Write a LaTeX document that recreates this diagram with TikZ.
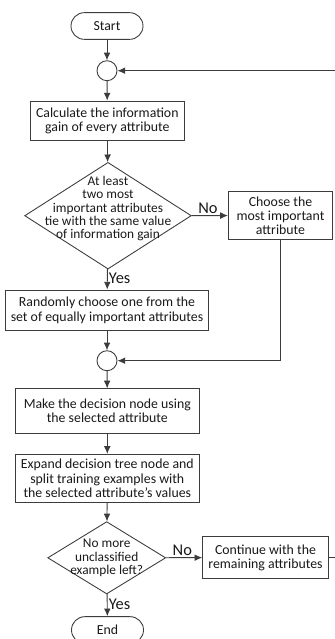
\documentclass[tikz,border=0pt]{standalone}
\usepackage{fontspec}
\setmainfont{Carlito}
\usepackage{tikz}
\usetikzlibrary{shapes.geometric, arrows.meta, positioning}
\definecolor{flowline}{RGB}{60,60,60}
\definecolor{flowtext}{RGB}{25,25,25}

\begin{document}
\begin{tikzpicture}[x=0.03cm,y=-0.03cm,
    line width=0.75pt,
    every node/.style={draw=flowline,font=\fontsize{11.8}{12}\selectfont\color{flowtext},align=center},
    terminal/.style={rounded corners=0.4cm,minimum width=2.16cm,minimum height=0.8cm},
    procbox/.style={rectangle,inner sep=2pt},
    merge/.style={circle,minimum size=0.6cm,inner sep=0pt},
    decision/.style={diamond,inner sep=0pt},
    tight/.style={draw=none,font=\fontsize{11.4}{11.4}\selectfont\color{flowtext}},
    flow/.style={draw=flowline,-{Latex[length=2.3mm,width=2mm]}},
    answer/.style={draw=none,font=\fontsize{14}{15}\selectfont\color{flowtext},inner sep=1pt}]
    \useasboundingbox (0,0) rectangle (335,639);
    \node[terminal] (start) at (107,26) {Start};
    \node[merge] (merge1) at (107,70.7) {};
    \node[procbox,minimum width=4.6cm,minimum height=1.17cm] (gain) at (107.3,120.5)
        {Calculate the information\\gain of every attribute};
    \node[decision,minimum width=5cm,minimum height=3.2cm,
          label={[tight,yshift=6pt]center:At least\\two most\\important attributes\\tie with the same value\\of information gain}] (tie) at (108,215.7) {};
    \node[procbox,minimum width=3.13cm,minimum height=1.43cm] (best) at (280.5,215.5)
        {Choose the\\most important\\attribute};
    \node[procbox,minimum width=6.07cm,minimum height=1.22cm] (random) at (107,310.3)
        {Randomly choose one from the\\set of equally important attributes};
    \node[merge] (merge2) at (107,360.7) {};
    \node[procbox,minimum width=5.5cm,minimum height=1.33cm] (make) at (107.3,411)
        {Make the decision node using\\the selected attribute};
    \node[procbox,minimum width=5.5cm,minimum height=1.44cm] (expand) at (107.3,478.3)
        {Expand decision tree node and\\split training examples with\\the selected attribute’s values};
    \node[decision,minimum width=3.54cm,minimum height=2.17cm,
          label={[tight]center:No more\\unclassified\\example left?}] (left) at (106.7,557.8) {};
    \node[procbox,minimum width=3.77cm,minimum height=1.25cm] (cont) at (265.5,557.5)
        {Continue with the\\remaining attributes};
    \node[terminal] (end) at (107.5,630) {End};
    \coordinate (back) at (345,557.5);

    \draw[flow] (start) -- (merge1);
    \draw[flow] (merge1) -- (gain);
    \draw[flow] (gain) -- (tie);
    \draw[flow] (tie) -- (best) node[answer,pos=0.45,above]{No};
    \draw[flow] (tie) -- (random) node[answer,pos=0.45,right]{Yes};
    \draw[flow] (best) |- (merge2);
    \draw[flow] (random) -- (merge2);
    \draw[flow] (merge2) -- (make);
    \draw[flow] (make) -- (expand);
    \draw[flow] (expand) -- (left);
    \draw[flow] (left) -- (cont) node[answer,pos=0.45,above]{No};
    \draw[flow] (left) -- (end) node[answer,pos=0.45,right]{Yes};
    \draw[flow] (cont) -- (back) |- (merge1);
  \end{tikzpicture}
\end{document}
